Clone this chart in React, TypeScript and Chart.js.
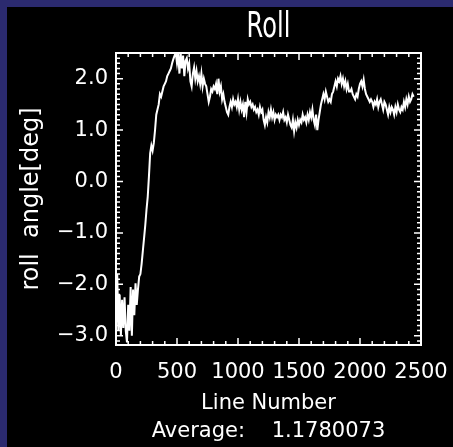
import { useEffect, useRef } from 'react';
import { Chart, registerables } from 'chart.js';

Chart.register(...registerables);

// Labels
const TITLE = 'Roll';
const X_TITLE = 'Line Number';
const Y_TITLE = 'roll  angle[deg]';
const AVERAGE = '1.1780073';
const AVERAGE_LABEL = 'Average:    ' + AVERAGE;

// Axes
const X_TICKS = [0, 500, 1000, 1500, 2000, 2500];
const Y_TICKS = [-3, -2, -1, 0, 1, 2];
const X_MIN = 0;
const X_MAX = 2500;
const Y_MIN = -3.18;
const Y_MAX = 2.5;

// Roll angle sampled every LINE_STEP lines
const LINE_STEP = 10;
const ROLL = [
  -2.95, -1.8, -2.9, -2.2, -3.0, -2.3, -2.85, -2.25, -2.9, -3.13,
  -2.4, -2.9, -2.05, -3.0, -2.1, -2.6, -1.98, -2.4, -2.1, -1.85,
  -1.8, -1.6, -1.35, -1.1, -0.85, -0.55, -0.3, 0.1, 0.55, 0.7,
  0.6, 0.75, 1.0, 1.3, 1.4, 1.5, 1.7, 1.65, 1.75, 1.85,
  1.9, 1.95, 2.05, 2.1, 2.15, 2.2, 2.3, 2.38, 2.45, 2.5,
  2.3, 2.48, 2.1, 2.5, 2.2, 2.45, 2.05, 2.35, 2.4, 2.2,
  2.3, 1.95, 1.85, 2.1, 2.22, 2.0, 2.15, 1.95, 2.05, 1.9,
  2.1, 1.85, 2.0, 1.9, 1.85, 1.7, 1.55, 1.65, 1.8, 1.75,
  1.85, 1.8, 1.9, 1.7, 2.0, 1.75, 1.85, 1.6, 1.7, 1.55,
  1.45, 1.35, 1.3, 1.45, 1.55, 1.45, 1.6, 1.5, 1.55, 1.45,
  1.6, 1.4, 1.55, 1.4, 1.5, 1.25, 1.55, 1.35, 1.6, 1.5,
  1.55, 1.45, 1.5, 1.4, 1.45, 1.35, 1.4, 1.3, 1.45, 1.35,
  1.4, 1.2, 1.1, 1.25, 1.15, 1.35, 1.25, 1.4, 1.25, 1.35,
  1.2, 1.3, 1.25, 1.3, 1.2, 1.3, 1.25, 1.35, 1.2, 1.25,
  1.15, 1.3, 1.2, 1.1, 1.05, 1.2, 0.98, 1.15, 1.05, 1.2,
  1.1, 1.2, 1.15, 1.3, 1.2, 1.25, 1.15, 1.3, 1.2, 1.35,
  1.25, 1.4, 1.2, 1.1, 1.3, 1.0, 1.2, 1.35, 1.5, 1.6,
  1.7, 1.6, 1.75, 1.65, 1.55, 1.6, 1.55, 1.7, 1.75, 1.85,
  1.95, 1.85, 2.0, 1.95, 2.05, 1.9, 2.0, 1.85, 1.95, 1.8,
  1.9, 1.75, 1.75, 1.8, 1.7, 1.65, 1.6, 1.7, 1.65, 1.8,
  1.9, 1.95, 1.85, 1.98, 1.8, 1.7, 1.65, 1.6, 1.55, 1.6,
  1.55, 1.45, 1.55, 1.5, 1.6, 1.45, 1.55, 1.6, 1.5, 1.4,
  1.55, 1.5, 1.4, 1.3, 1.45, 1.35, 1.45, 1.4, 1.3, 1.45,
  1.35, 1.5, 1.4, 1.35, 1.45, 1.4, 1.55, 1.45, 1.6, 1.5,
  1.65, 1.55, 1.6, 1.7, 1.65,
];

const FONT = '"DejaVu Sans", sans-serif';
const NAVY = '#2b2a6f';
const WHITE = '#ffffff';

// Black page with a navy band along the top and left edges,
// the plot frame with inward major/minor ticks on all four sides, and the title.
const framePlugin = {
  id: 'idlFrame',
  beforeDraw(chart: any) {
    const { ctx, width, height } = chart;
    ctx.save();
    ctx.fillStyle = '#000';
    ctx.fillRect(0, 0, width, height);
    ctx.fillStyle = NAVY;
    ctx.fillRect(0, 0, width, 7);
    ctx.fillRect(0, 0, 7, height);
    ctx.restore();
  },
  afterDatasetsDraw(chart: any) {
    const { ctx, chartArea: a } = chart;
    const x = chart.scales.x;
    const y = chart.scales.y;
    ctx.save();
    ctx.strokeStyle = WHITE;
    ctx.lineWidth = 1.5;
    ctx.beginPath();
    for (let k = 0; k <= 25; k++) {
      const px = x.getPixelForValue(k * 100);
      const len = k % 5 === 0 ? 7 : 4;
      ctx.moveTo(px, a.bottom);
      ctx.lineTo(px, a.bottom - len);
      ctx.moveTo(px, a.top);
      ctx.lineTo(px, a.top + len);
    }
    for (let k = Math.ceil(Y_MIN * 10); k <= Math.floor(Y_MAX * 10); k++) {
      const py = y.getPixelForValue(k / 10);
      const len = k % 10 === 0 ? 7 : 4;
      ctx.moveTo(a.left, py);
      ctx.lineTo(a.left + len, py);
      ctx.moveTo(a.right, py);
      ctx.lineTo(a.right - len, py);
    }
    ctx.stroke();
    ctx.lineWidth = 2;
    ctx.strokeRect(a.left, a.top, a.right - a.left, a.bottom - a.top);

    ctx.fillStyle = WHITE;
    ctx.font = '36px ' + FONT;
    ctx.textAlign = 'center';
    ctx.textBaseline = 'middle';
    ctx.translate((a.left + a.right) / 2, 28);
    ctx.scale(0.67, 1);
    ctx.fillText(TITLE, 0, 0);
    ctx.restore();
  },
};

export default function App() {
  const canvasRef = useRef<HTMLCanvasElement | null>(null);

  useEffect(() => {
    const canvas = canvasRef.current;
    if (!canvas) return;
    const chart = new Chart(canvas, {
      type: 'line',
      data: {
        datasets: [
          {
            data: ROLL.map((v, i) => ({ x: i * LINE_STEP, y: v })),
            borderColor: WHITE,
            borderWidth: 2,
            pointRadius: 0,
            tension: 0,
            fill: false,
          },
        ],
      },
      options: {
        responsive: false,
        animation: false,
        events: [],
        layout: { padding: { left: 0, right: 32, top: 53, bottom: 0 } },
        plugins: {
          legend: { display: false },
          tooltip: { enabled: false },
        },
        scales: {
          x: {
            type: 'linear',
            min: X_MIN,
            max: X_MAX,
            afterBuildTicks: (s: any) => {
              s.ticks = X_TICKS.map((value) => ({ value }));
            },
            afterFit: (s: any) => {
              s.height = 102;
              s.paddingLeft = 0;
              s.paddingRight = 0;
            },
            grid: { display: false, drawTicks: false },
            border: { display: false },
            ticks: {
              color: WHITE,
              padding: 15,
              maxRotation: 0,
              autoSkip: false,
              font: { family: FONT, size: 21 },
              callback: (v: any) => String(v),
            },
            title: {
              display: true,
              text: [X_TITLE, AVERAGE_LABEL],
              color: WHITE,
              font: { family: FONT, size: 21, lineHeight: 28 / 21 },
              padding: { top: 0, bottom: 1 },
            },
          },
          y: {
            type: 'linear',
            min: Y_MIN,
            max: Y_MAX,
            afterBuildTicks: (s: any) => {
              s.ticks = Y_TICKS.map((value) => ({ value }));
            },
            afterFit: (s: any) => {
              s.width = 116;
              s.paddingTop = 0;
              s.paddingBottom = 0;
            },
            grid: { display: false, drawTicks: false },
            border: { display: false },
            ticks: {
              color: WHITE,
              padding: 8,
              autoSkip: false,
              font: { family: FONT, size: 21 },
              callback: (v: any) => Number(v).toFixed(1).replace('-', '\u2212'),
            },
            title: {
              display: true,
              text: Y_TITLE,
              color: WHITE,
              font: { family: FONT, size: 24 },
              padding: { top: 17, bottom: 0 },
            },
          },
        },
      },
      plugins: [framePlugin],
    });
    return () => chart.destroy();
  }, []);

  return (
    <div style={{ position: 'fixed', left: 0, top: 0, width: 453, height: 447 }}>
      <canvas ref={canvasRef} width={453} height={447} style={{ display: 'block' }} />
    </div>
  );
}
